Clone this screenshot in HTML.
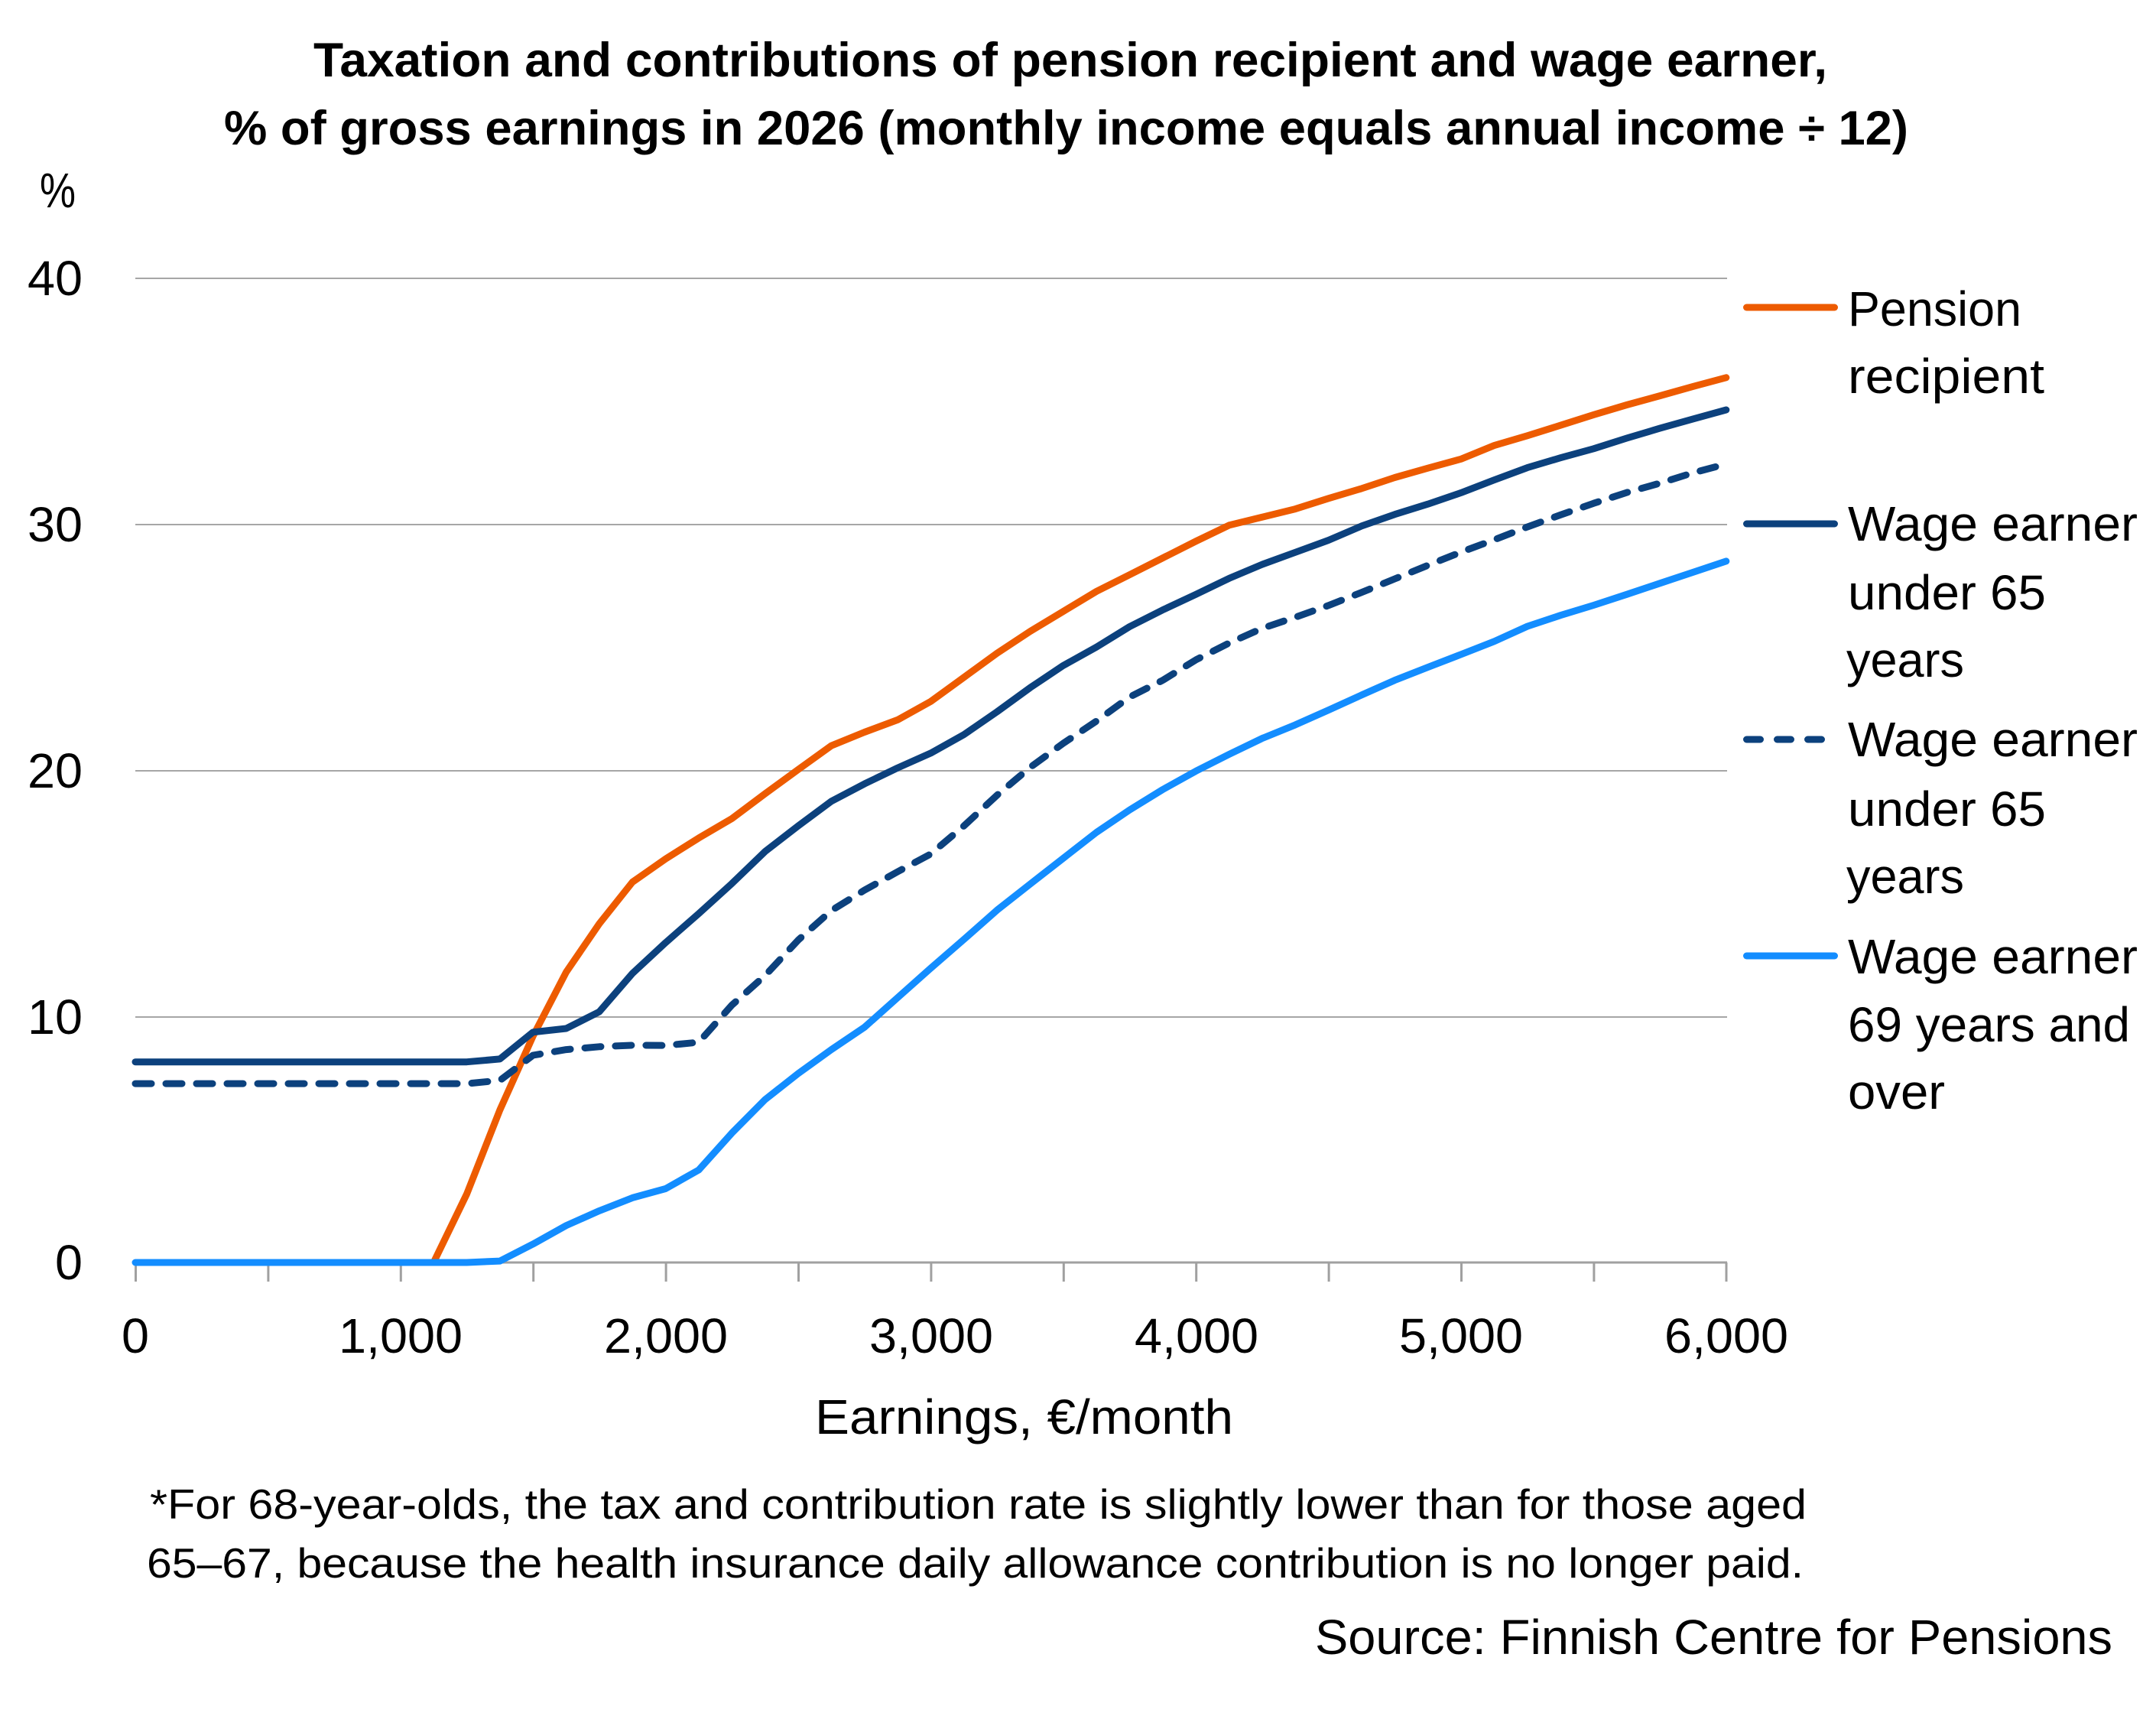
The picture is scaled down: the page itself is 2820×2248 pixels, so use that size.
<!DOCTYPE html>
<html>
<head>
<meta charset="utf-8">
<style>
html,body{margin:0;padding:0;background:#fff;}
svg{display:block;}
text{font-family:"Liberation Sans",Arial,sans-serif;fill:#000;}
</style>
</head>
<body>
<svg width="2820" height="2248" viewBox="0 0 2820 2248" xmlns="http://www.w3.org/2000/svg">
<rect x="0" y="0" width="2820" height="2248" fill="#fff"/>

<!-- Title -->
<text x="410" y="100" font-size="63" font-weight="bold" textLength="1980" lengthAdjust="spacingAndGlyphs">Taxation and contributions of pension recipient and wage earner,</text>
<text x="293" y="189" font-size="63" font-weight="bold" textLength="2203" lengthAdjust="spacingAndGlyphs">% of gross earnings in 2026 (monthly income equals annual income ÷ 12)</text>

<!-- y unit -->
<text x="52" y="271" font-size="64" textLength="47" lengthAdjust="spacingAndGlyphs">%</text>

<!-- gridlines -->
<g stroke="#a6a6a6" stroke-width="2">
<line x1="177" y1="364" x2="2259" y2="364"/>
<line x1="177" y1="686" x2="2259" y2="686"/>
<line x1="177" y1="1008" x2="2259" y2="1008"/>
<line x1="177" y1="1330" x2="2259" y2="1330"/>
</g>
<!-- x axis -->
<g stroke="#a0a0a0" stroke-width="3">
<line x1="177" y1="1651" x2="2259" y2="1651"/>
<line x1="177.5" y1="1651" x2="177.5" y2="1676"/>
<line x1="350.9" y1="1651" x2="350.9" y2="1676"/>
<line x1="524.3" y1="1651" x2="524.3" y2="1676"/>
<line x1="697.7" y1="1651" x2="697.7" y2="1676"/>
<line x1="871.1" y1="1651" x2="871.1" y2="1676"/>
<line x1="1044.5" y1="1651" x2="1044.5" y2="1676"/>
<line x1="1217.9" y1="1651" x2="1217.9" y2="1676"/>
<line x1="1391.3" y1="1651" x2="1391.3" y2="1676"/>
<line x1="1564.7" y1="1651" x2="1564.7" y2="1676"/>
<line x1="1738.1" y1="1651" x2="1738.1" y2="1676"/>
<line x1="1911.5" y1="1651" x2="1911.5" y2="1676"/>
<line x1="2084.9" y1="1651" x2="2084.9" y2="1676"/>
<line x1="2258" y1="1651" x2="2258" y2="1676"/>
</g>

<!-- y tick labels -->
<g font-size="64" text-anchor="end">
<text x="108" y="386" textLength="72" lengthAdjust="spacingAndGlyphs">40</text>
<text x="108" y="708" textLength="72" lengthAdjust="spacingAndGlyphs">30</text>
<text x="108" y="1030" textLength="72" lengthAdjust="spacingAndGlyphs">20</text>
<text x="108" y="1352" textLength="72" lengthAdjust="spacingAndGlyphs">10</text>
<text x="108" y="1673" textLength="36" lengthAdjust="spacingAndGlyphs">0</text>
</g>

<!-- x tick labels -->
<g font-size="64" text-anchor="middle">
<text x="177" y="1769" textLength="36" lengthAdjust="spacingAndGlyphs">0</text>
<text x="524" y="1769" textLength="162" lengthAdjust="spacingAndGlyphs">1,000</text>
<text x="871" y="1769" textLength="162" lengthAdjust="spacingAndGlyphs">2,000</text>
<text x="1218" y="1769" textLength="162" lengthAdjust="spacingAndGlyphs">3,000</text>
<text x="1565" y="1769" textLength="162" lengthAdjust="spacingAndGlyphs">4,000</text>
<text x="1911" y="1769" textLength="162" lengthAdjust="spacingAndGlyphs">5,000</text>
<text x="2258" y="1769" textLength="162" lengthAdjust="spacingAndGlyphs">6,000</text>
</g>

<!-- axis title -->
<text x="1066" y="1875" font-size="64" textLength="547" lengthAdjust="spacingAndGlyphs">Earnings, €/month</text>

<!-- series -->
<g fill="none" stroke-width="9" stroke-linejoin="round" stroke-linecap="round">
<!-- Pension recipient -->
<polyline stroke="#ED5B00" points="567.15,1651 610.5,1561.5 653.85,1451.5 697.2,1354.9 740.55,1271.3 783.9,1207.9 827.25,1153.5 870.6,1123.2 913.95,1095.9 957.3,1070.5 1000.65,1038.0 1044,1006.4 1087.35,975.2 1130.7,957.5 1174.05,941.4 1217.4,917.3 1260.75,885.8 1304.1,854.2 1347.45,825.6 1390.8,799.5 1434.15,773.4 1477.5,751.6 1520.85,729.7 1564.2,707.8 1607.55,686.9 1650.9,676.3 1694.25,665.6 1737.6,651.8 1780.95,638.9 1824.3,624.5 1867.65,612.2 1911,600.3 1954.35,582.6 1997.7,569.8 2041.05,556.2 2084.4,542.4 2127.75,529.5 2171.1,517.6 2214.45,505.4 2257.8,493.8"/>
<!-- Wage earner under 65 solid -->
<polyline stroke="#0C417D" points="177,1388.7 610.5,1388.7 653.85,1384.9 697.2,1349.8 740.55,1345.0 783.9,1323.1 827.25,1272.9 870.6,1232.7 913.95,1194.7 957.3,1155.4 1000.65,1113.6 1044,1080.1 1087.35,1047.9 1130.7,1025.1 1174.05,1004.2 1217.4,984.9 1260.75,960.7 1304.1,930.8 1347.45,899.3 1390.8,870.3 1434.15,846.2 1477.5,819.5 1520.85,797.6 1564.2,777.3 1607.55,756.4 1650.9,738.1 1694.25,722.3 1737.6,706.5 1780.95,687.9 1824.3,672.7 1867.65,659.2 1911,644.4 1954.35,627.7 1997.7,611.6 2041.05,598.7 2084.4,586.8 2127.75,573.0 2171.1,560.1 2214.45,547.9 2257.8,536.0"/>
<!-- Wage earner under 65 dashed -->
<polyline stroke="#0C417D" stroke-dasharray="21 19" points="177,1417.1 610.5,1417.1 653.85,1412.9 697.2,1380.0 740.55,1372.6 783.9,1368.8 827.25,1366.9 870.6,1367.2 913.95,1363.0 957.3,1314.4 1000.65,1275.8 1044,1229.4 1087.35,1190.8 1130.7,1164.1 1174.05,1140.0 1217.4,1116.8 1260.75,1080.1 1304.1,1039.9 1347.45,1003.5 1390.8,972.0 1434.15,943.0 1477.5,911.5 1520.85,889.6 1564.2,862.9 1607.55,841.0 1650.9,821.7 1694.25,807.2 1737.6,791.8 1780.95,774.7 1824.3,757.0 1867.65,739.3 1911,722.0 1954.35,705.9 1997.7,689.1 2041.05,673.4 2084.4,658.2 2127.75,644.1 2171.1,631.9 2214.45,618.3 2257.8,606.8"/>
<!-- Wage earner 69 and over -->
<polyline stroke="#138DFF" points="177,1651 610.5,1651 653.85,1649.1 697.2,1626.9 740.55,1602.7 783.9,1583.4 827.25,1566.4 870.6,1554.5 913.95,1530.0 957.3,1481.7 1000.65,1438.0 1044,1403.9 1087.35,1372.6 1130.7,1343.4 1174.05,1304.7 1217.4,1266.1 1260.75,1228.5 1304.1,1190.2 1347.45,1156.1 1390.8,1122.3 1434.15,1088.5 1477.5,1059.2 1520.85,1032.5 1564.2,1008.4 1607.55,986.5 1650.9,965.6 1694.25,947.9 1737.6,928.6 1780.95,908.9 1824.3,889.6 1867.65,872.6 1911,855.8 1954.35,838.8 1997.7,819.1 2041.05,804.7 2084.4,791.5 2127.75,777.3 2171.1,762.8 2214.45,748.4 2257.8,733.9"/>
</g>

<!-- Legend -->
<g fill="none" stroke-width="9" stroke-linecap="round">
<line x1="2284.5" y1="402" x2="2399.5" y2="402" stroke="#ED5B00"/>
<line x1="2284.5" y1="685" x2="2399.5" y2="685" stroke="#0C417D"/>
<line x1="2284.5" y1="967" x2="2384" y2="967" stroke="#0C417D" stroke-dasharray="18 22"/>
<line x1="2284.5" y1="1250" x2="2399.5" y2="1250" stroke="#138DFF"/>
</g>
<g font-size="64">
<text x="2417" y="426" textLength="227" lengthAdjust="spacingAndGlyphs">Pension</text>
<text x="2417" y="514" textLength="257" lengthAdjust="spacingAndGlyphs">recipient</text>
<text x="2417" y="707" textLength="379" lengthAdjust="spacingAndGlyphs">Wage earner</text>
<text x="2417" y="797" textLength="259" lengthAdjust="spacingAndGlyphs">under 65</text>
<text x="2415" y="885" textLength="154" lengthAdjust="spacingAndGlyphs">years</text>
<text x="2417" y="989" textLength="379" lengthAdjust="spacingAndGlyphs">Wage earner</text>
<text x="2417" y="1080" textLength="259" lengthAdjust="spacingAndGlyphs">under 65</text>
<text x="2415" y="1168" textLength="154" lengthAdjust="spacingAndGlyphs">years</text>
<text x="2417" y="1273" textLength="379" lengthAdjust="spacingAndGlyphs">Wage earner</text>
<text x="2417" y="1362" textLength="369" lengthAdjust="spacingAndGlyphs">69 years and</text>
<text x="2417" y="1450" textLength="127" lengthAdjust="spacingAndGlyphs">over</text>
</g>

<!-- Footnote -->
<text x="196" y="1986" font-size="55" textLength="2167" lengthAdjust="spacingAndGlyphs">*For 68-year-olds, the tax and contribution rate is slightly lower than for those aged</text>
<text x="192" y="2063" font-size="55" textLength="2167" lengthAdjust="spacingAndGlyphs">65–67, because the health insurance daily allowance contribution is no longer paid.</text>
<text x="1720" y="2163" font-size="64" textLength="1043" lengthAdjust="spacingAndGlyphs">Source: Finnish Centre for Pensions</text>
</svg>
</body>
</html>
